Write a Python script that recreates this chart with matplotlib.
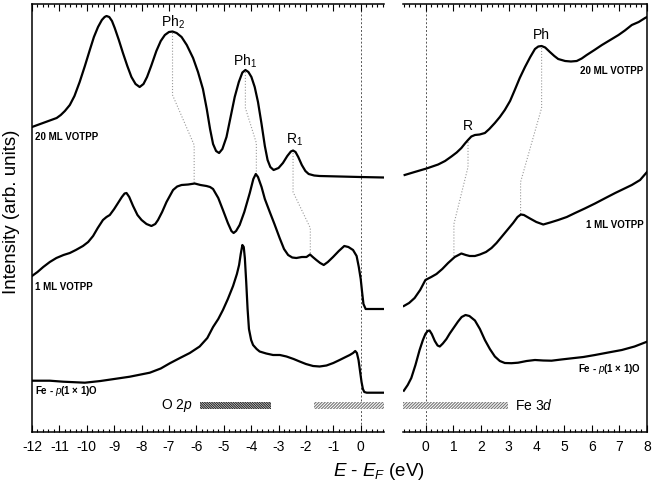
import matplotlib
matplotlib.use("Agg")
import matplotlib.pyplot as plt
from matplotlib.ticker import MultipleLocator

plt.rcParams['font.family'] = ['Liberation Sans', 'DejaVu Sans']
plt.rcParams['mathtext.fontset'] = 'custom'
plt.rcParams['mathtext.rm'] = 'Liberation Sans'
plt.rcParams['mathtext.it'] = 'Liberation Sans:italic'
plt.rcParams['hatch.linewidth'] = 0.8

# ---- spectra, left panel (valence band, E - EF in eV) ----
ml20_l_x = [-12.0, -11.7, -11.4, -11.1, -10.95, -10.8, -10.62, -10.45, -10.26, -10.07, -9.89,
            -9.74, -9.59, -9.45, -9.35, -9.28, -9.18, -9.08, -8.98, -8.83, -8.68, -8.52, -8.37,
            -8.22, -8.07, -7.93, -7.8, -7.65, -7.46, -7.3, -7.15, -7.0, -6.87, -6.72, -6.54,
            -6.35, -6.12, -5.94, -5.76, -5.62, -5.5, -5.39, -5.28, -5.17, -5.05, -4.9, -4.75,
            -4.6, -4.45, -4.32, -4.21, -4.1, -3.99, -3.87, -3.75, -3.62, -3.5, -3.4, -3.3,
            -3.18, -3.0, -2.84, -2.68, -2.55, -2.47, -2.38, -2.28, -2.15, -2.02, -1.9, -1.7,
            -1.5, -0.04, 0.85]
ml20_l_y = [30.5, 30.8, 31.1, 31.4, 31.7, 32.1, 32.7, 33.6, 35.0, 36.6, 38.2,
            39.5, 40.5, 41.2, 41.5, 41.6, 41.5, 41.1, 40.4, 39.2, 37.9, 36.6, 35.5,
            34.8, 34.5, 34.8, 35.5, 36.6, 38.1, 39.1, 39.7, 40.0, 40.05, 39.9, 39.5,
            38.7, 37.4, 36.0, 34.3, 32.3, 30.3, 28.8, 28.1, 27.9, 28.3, 29.5, 31.5,
            33.5, 35.0, 35.95, 36.2, 36.0, 35.5, 34.5, 33.0, 30.8, 28.6, 27.2, 26.5,
            26.2, 26.4, 26.9, 27.6, 28.05, 28.15, 28.0, 27.5, 26.7, 26.1, 25.8, 25.65,
            25.6, 25.5, 25.45]

ml1_l_x = [-12.0, -11.8, -11.59, -11.35, -11.11, -10.85, -10.62, -10.4, -10.14, -9.95, -9.77,
           -9.6, -9.41, -9.28, -9.16, -9.0, -8.86, -8.72, -8.62, -8.55, -8.45, -8.31, -8.15,
           -8.0, -7.82, -7.64, -7.5, -7.4, -7.25, -7.09, -6.95, -6.85, -6.7, -6.54, -6.3,
           -6.06, -5.85, -5.63, -5.5, -5.39, -5.2, -5.03, -4.85, -4.72, -4.64, -4.55, -4.42,
           -4.25, -4.05, -3.92, -3.83, -3.75, -3.62, -3.5, -3.32, -3.15, -2.96, -2.8, -2.65,
           -2.5, -2.35, -2.15, -1.98, -1.85, -1.75, -1.62, -1.48, -1.35, -1.2, -1.01, -0.8,
           -0.6, -0.45, -0.28, -0.15, -0.07, 0.0, 0.05, 0.1, 0.18, 0.85]
ml1_l_y = [15.6, 16.0, 16.5, 17.0, 17.4, 17.7, 17.9, 18.2, 18.6, 19.0, 19.6,
           20.4, 21.2, 21.5, 21.7, 22.3, 22.9, 23.5, 23.85, 23.9, 23.5, 22.6, 21.7,
           21.2, 20.8, 20.6, 20.8, 21.2, 22.0, 23.0, 23.7, 24.2, 24.55, 24.7, 24.75,
           24.85, 24.7, 24.6, 24.5, 24.3, 23.4, 22.2, 20.9, 20.1, 19.9, 20.1, 20.7,
           22.0, 23.9, 25.3, 25.8, 25.5, 24.5, 23.3, 22.0, 20.8, 19.4, 18.3, 17.7,
           17.45, 17.4, 17.5, 17.5, 17.75, 17.5, 17.2, 16.9, 16.7, 17.0, 17.5, 18.1,
           18.6, 18.5, 18.2, 17.6, 16.5, 15.3, 14.0, 12.8, 12.3, 12.3]

fe_l_x = [-12.0, -11.35, -10.86, -10.07, -9.5, -9.0, -8.43, -7.7, -7.3, -6.97, -6.6,
          -6.24, -5.88, -5.6, -5.39, -5.2, -5.03, -4.85, -4.66, -4.52, -4.44, -4.38, -4.32,
          -4.27, -4.23, -4.18, -4.13, -4.08, -4.0, -3.93, -3.8, -3.69, -3.45, -3.2, -2.95,
          -2.71, -2.45, -2.23, -2.0, -1.74, -1.5, -1.25, -1.0, -0.77, -0.55, -0.4, -0.28,
          -0.2, -0.14, -0.08, -0.02, 0.03, 0.08, 0.13, 0.22, 0.85]
fe_l_y = [5.13, 5.13, 5.03, 4.93, 5.1, 5.3, 5.53, 5.93, 6.35, 6.87, 7.4,
          7.9, 8.55, 9.4, 10.5, 11.3, 12.2, 13.3, 14.6, 15.8, 16.7, 17.8, 18.7,
          18.5, 17.4, 15.0, 12.3, 10.3, 9.2, 8.7, 8.3, 8.05, 7.85, 7.7, 7.7,
          7.55, 7.3, 7.05, 6.8, 6.6, 6.55, 6.65, 6.9, 7.2, 7.5, 7.7, 7.9,
          8.1, 7.9, 7.2, 6.0, 5.0, 4.3, 4.0, 3.93, 3.93]

# ---- spectra, right panel (unoccupied states) ----
ml20_r_x = [-0.76, -0.4, 0.03, 0.45, 0.7, 0.93, 1.12, 1.29, 1.42, 1.53, 1.65, 1.78, 1.95,
            2.14, 2.3, 2.5, 2.68, 2.86, 3.05, 3.22, 3.4, 3.59, 3.78, 3.95, 4.07, 4.19, 4.32,
            4.49, 4.65, 4.79, 5.04, 5.25, 5.46, 5.64, 5.82, 6.1, 6.37, 6.67, 6.97, 7.2, 7.45,
            7.7, 7.93, 8.0]
ml20_r_y = [25.7, 26.0, 26.35, 26.75, 27.1, 27.55, 27.95, 28.4, 28.85, 29.2, 29.55, 29.7, 29.75,
            29.9, 30.3, 30.9, 31.5, 32.2, 33.1, 34.2, 35.4, 36.5, 37.5, 38.3, 38.55, 38.6, 38.45,
            38.0, 37.6, 37.3, 37.1, 37.05, 37.1, 37.35, 37.7, 38.2, 38.7, 39.2, 39.7, 40.15, 40.7,
            41.0, 41.4, 41.5]

ml1_r_x = [-0.79, -0.6, -0.4, -0.2, -0.01, 0.2, 0.39, 0.6, 0.81, 1.05, 1.29, 1.45, 1.59,
           1.78, 1.96, 2.18, 2.38, 2.56, 2.74, 2.95, 3.16, 3.32, 3.44, 3.55, 3.77, 4.0, 4.25,
           4.5, 4.79, 5.1, 5.4, 5.75, 6.12, 6.5, 6.85, 7.15, 7.45, 7.75, 8.0]
ml1_r_y = [12.6, 12.9, 13.4, 14.2, 15.2, 15.5, 15.8, 16.3, 16.9, 17.5, 17.85, 17.7, 17.6,
           17.6, 17.75, 18.0, 18.4, 18.9, 19.5, 20.2, 20.9, 21.5, 21.75, 21.7, 21.35, 21.0, 20.75,
           20.95, 21.2, 21.5, 21.9, 22.35, 22.85, 23.4, 23.9, 24.3, 24.7, 25.2, 26.0]

fe_r_x = [-0.79, -0.65, -0.52, -0.37, -0.22, -0.1, -0.01, 0.07, 0.14, 0.22, 0.33, 0.43, 0.51,
          0.62, 0.75, 0.87, 1.02, 1.17, 1.3, 1.44, 1.58, 1.78, 1.96, 2.14, 2.32, 2.5, 2.68,
          2.86, 3.1, 3.34, 3.65, 3.95, 4.25, 4.55, 4.9, 5.28, 5.7, 6.12, 6.6, 7.09, 7.55, 8.0]
fe_r_y = [4.13, 4.7, 5.4, 6.7, 8.2, 9.2, 9.8, 10.1, 10.15, 9.8, 9.1, 8.65, 8.55,
          8.85, 9.3, 9.85, 10.45, 11.05, 11.5, 11.7, 11.6, 11.15, 10.3, 9.2, 8.3, 7.55, 7.1,
          6.9, 6.88, 6.93, 7.1, 7.2, 7.15, 7.13, 7.25, 7.37, 7.5, 7.7, 7.95, 8.2, 8.55, 9.03]

# ---- guide lines linking features between the spectra ----
guides_left = {
    'Ph2': ([-6.87, -6.87, -6.08, -6.08], [39.9, 33.7, 28.7, 24.9]),
    'Ph1': ([-4.21, -4.21, -3.81, -3.81], [36.0, 32.4, 28.9, 25.9]),
    'R1': ([-2.47, -2.47, -1.84, -1.84], [27.9, 24.0, 20.4, 17.8]),
}
guides_right = {
    'R': ([1.53, 1.53, 1.02, 1.02], [29.0, 26.5, 20.8, 17.6]),
    'Ph': ([4.19, 4.19, 3.43, 3.43], [38.4, 32.4, 25.0, 21.8]),
}
peak_labels_left = [('Ph$_2$', -6.85, 41.0), ('Ph$_1$', -4.23, 37.1), ('R$_1$', -2.41, 29.2)]
peak_labels_right = [('R', 1.53, 30.6), ('Ph', 4.19, 39.7)]

# band ranges (eV)
o2p_band = (-5.88, -3.28)
fe3d_band = (-1.70, 2.98)

xlim_left = (-12, 0.85)
xlim_right = (-0.82, 8)
ylim = (0, 42.8)

fig = plt.figure(figsize=(6.53, 4.91), dpi=100)
axl = fig.add_axes([32 / 653, 1 - 432 / 491, (384 - 32) / 653, 428 / 491])
axr = fig.add_axes([403 / 653, 1 - 432 / 491, (647 - 403) / 653, 428 / 491])

lw_curve = 1.6
for ax, xl in ((axl, xlim_left), (axr, xlim_right)):
    ax.set_xlim(*xl)
    ax.set_ylim(*ylim)
    ax.axvline(0, color='#555555', lw=0.7, ls=(0, (2, 2)), zorder=1)
    ax.xaxis.set_major_locator(MultipleLocator(1))
    ax.xaxis.set_minor_locator(MultipleLocator(0.2))
    ax.tick_params(axis='x', which='both', direction='in', top=True, bottom=True,
                   labelsize=10, width=0.8, pad=6)
    ax.tick_params(axis='x', which='major', length=5)
    ax.tick_params(axis='x', which='minor', length=2.5)
    ax.set_yticks([])
    for s in ax.spines.values():
        s.set_linewidth(1.1)

axl.spines['right'].set_visible(False)
axr.spines['left'].set_visible(False)
axl.set_xticks(range(-12, 1))
axl.set_xticklabels([str(v) for v in range(-12, 1)])
axr.set_xticks(range(0, 9))

for ax, xs, ys in ((axl, ml20_l_x, ml20_l_y), (axl, ml1_l_x, ml1_l_y), (axl, fe_l_x, fe_l_y),
                   (axr, ml20_r_x, ml20_r_y), (axr, ml1_r_x, ml1_r_y), (axr, fe_r_x, fe_r_y)):
    ax.plot(xs, ys, color='black', lw=lw_curve, zorder=3, solid_joinstyle='round')

for gx, gy in guides_left.values():
    axl.plot(gx, gy, color='#999999', lw=0.8, ls=':', zorder=2)
for gx, gy in guides_right.values():
    axr.plot(gx, gy, color='#999999', lw=0.8, ls=':', zorder=2)

for txt, x, y in peak_labels_left:
    axl.text(x, y, txt, ha='center', va='center', fontsize=10)
for txt, x, y in peak_labels_right:
    axr.text(x, y, txt, ha='center', va='center', fontsize=10)

lab = dict(fontsize=7, fontweight='bold', va='center')
axl.text(-11.88, 29.5, '20 ML VOTPP', ha='left', **lab)
axl.text(-11.88, 14.5, '1 ML VOTPP', ha='left', **lab)
axl.text(-11.88, 4.1, 'Fe - $\\mathbf{\\mathit{p}}$(1 × 1)O', ha='left', **lab)
axr.text(7.86, 36.1, '20 ML VOTPP', ha='right', **lab)
axr.text(7.9, 20.7, '1 ML VOTPP', ha='right', **lab)
axr.text(7.8, 6.3, 'Fe - $\\mathbf{\\mathit{p}}$(1 × 1)O', ha='right', **lab)

# band bars
bar_y0, bar_h = 2.3, 0.75
axl.fill_between(o2p_band, bar_y0, bar_y0 + bar_h, facecolor='white', edgecolor='#222222',
                 hatch='\\' * 14, lw=0, zorder=4)
axl.fill_between([fe3d_band[0], xlim_left[1]], bar_y0, bar_y0 + bar_h, facecolor='white',
                 edgecolor='#777777', hatch='/' * 11, lw=0, zorder=4)
axr.fill_between([xlim_right[0], fe3d_band[1]], bar_y0, bar_y0 + bar_h, facecolor='white',
                 edgecolor='#777777', hatch='/' * 11, lw=0, zorder=4)
axl.text(-6.13, bar_y0 + bar_h / 2, 'O 2$p$', ha='right', va='center', fontsize=10)
axr.text(3.22, bar_y0 + bar_h / 2, 'Fe 3$d$', ha='left', va='center', fontsize=10)

fig.text(12 / 653, 1 - 212 / 491, 'Intensity (arb. units)', rotation=90,
         ha='center', va='center', fontsize=13.5)
fig.text(379 / 653, 1 - 472 / 491, '$E$ - $E_F$ (eV)', ha='center', va='center', fontsize=13.5)

fig.savefig('out.png', dpi=100)
